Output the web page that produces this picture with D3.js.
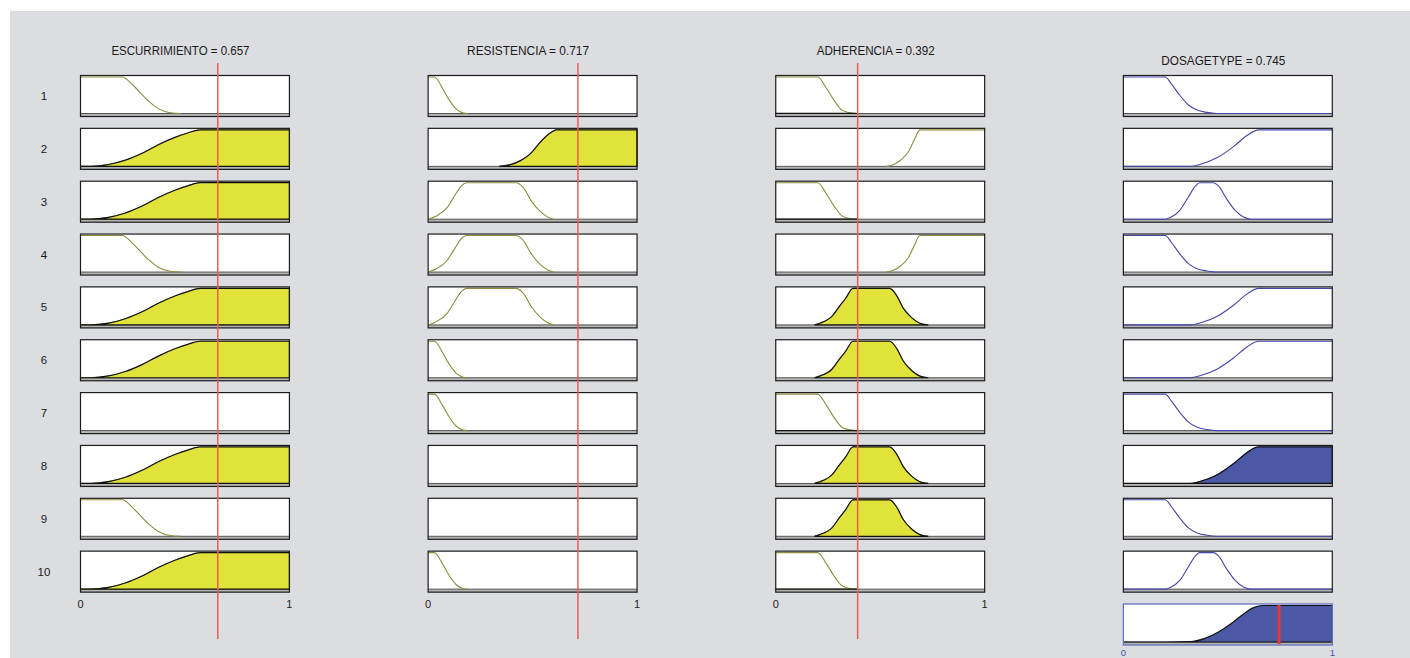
<!DOCTYPE html>
<html><head><meta charset="utf-8">
<script src="https://cdn.jsdelivr.net/npm/d3@7"></script>
<style>body{margin:0;background:#fff}svg{display:block}text{font-family:"Liberation Sans",Arial,sans-serif}</style>
</head><body><svg id="c" width="1410" height="658"></svg>
<script>
// ---- data ----
const columnTitles = ["ESCURRIMIENTO", "RESISTENCIA", "ADHERENCIA", "DOSAGETYPE"];
const columnValues = [0.657, 0.717, 0.392, 0.745];
const ruleNumbers = [1, 2, 3, 4, 5, 6, 7, 8, 9, 10];
const axisTicks = [0, 1];

// membership function shapes: [value, membership]
const escLow = [[0,1],[0.2,1],[0.25,0.78],[0.32,0.37],[0.37,0.14],[0.43,0.02],[0.48,0]];
const escHigh = [[0,0],[0.05,0],[0.135,0.05],[0.215,0.17],[0.295,0.36],[0.375,0.6],[0.455,0.8],[0.517,0.92],[0.574,1],[1,1]];
const resLow = [[0,1],[0.03,1],[0.07,0.68],[0.1,0.38],[0.135,0.12],[0.165,0.02],[0.19,0]];
const resMedium = [[0,0],[0.04,0.09],[0.09,0.31],[0.13,0.67],[0.16,0.92],[0.185,1],[0.42,1],[0.455,0.87],[0.495,0.49],[0.535,0.22],[0.575,0.05],[0.6,0]];
const resHigh = [[0.34,0],[0.39,0.04],[0.44,0.15],[0.49,0.35],[0.535,0.65],[0.575,0.87],[0.615,1],[1,1]];
const adhLow = [[0,1],[0.2,1],[0.245,0.67],[0.285,0.31],[0.315,0.1],[0.34,0.04],[0.355,0.02],[0.395,0]];
const adhMedium = [[0.185,0],[0.21,0.045],[0.27,0.24],[0.305,0.51],[0.335,0.73],[0.37,1],[0.545,1],[0.58,0.79],[0.61,0.46],[0.65,0.2],[0.69,0.045],[0.73,0]];
const adhHigh = [[0.53,0],[0.56,0.04],[0.6,0.18],[0.635,0.4],[0.665,0.75],[0.69,1],[1,1]];
const dosLow = [[0,1],[0.2,1],[0.23,0.81],[0.27,0.5],[0.31,0.24],[0.35,0.1],[0.4,0.03],[0.445,0],[1,0]];
const dosMedium = [[0,0],[0.2,0],[0.225,0.045],[0.27,0.24],[0.31,0.6],[0.345,0.91],[0.365,1],[0.43,1],[0.455,0.91],[0.495,0.55],[0.535,0.24],[0.575,0.06],[0.61,0],[1,0]];
const dosHigh = [[0,0],[0.32,0],[0.37,0.06],[0.45,0.24],[0.527,0.54],[0.593,0.85],[0.647,1],[1,1]];
const dosAggregate = [[0,0],[0.2,0],[0.32,0.01],[0.39,0.1],[0.455,0.275],[0.52,0.52],[0.585,0.81],[0.615,0.92],[0.665,1],[1,1]];

// rule antecedents / consequent per rule (null = not used)
const ruleEsc = ["low","high","high","low","high","high",null,"high","low","high"];
const ruleRes = ["low","high","medium","medium","medium","low","low",null,null,"low"];
const ruleAdh = ["low","high","low","high","medium","medium","low","medium","medium","low"];
const ruleDos = ["low","high","medium","low","high","high","low","high","low","medium"];

// ---- drawing ----
const mfSets = [
  {low: escLow, high: escHigh},
  {low: resLow, medium: resMedium, high: resHigh},
  {low: adhLow, medium: adhMedium, high: adhHigh},
  {low: dosLow, medium: dosMedium, high: dosHigh}
];
const ruleCols = [ruleEsc, ruleRes, ruleAdh, ruleDos];

const svg = d3.select("#c");
svg.append("rect").attr("x",10).attr("y",11).attr("width",1400).attr("height",647).attr("fill","#dcdde0");

const colBand = d3.scaleBand().domain(d3.range(4)).range([80.5, 1332.3]).paddingInner(0.399);
const rowBand = d3.scaleBand().domain(d3.range(11)).range([75.5, 645]).paddingInner(0.224);

function mu(pts, v) {
  if (v <= pts[0][0]) return pts[0][1];
  if (v >= pts[pts.length-1][0]) return pts[pts.length-1][1];
  for (let i = 1; i < pts.length; i++) {
    if (v <= pts[i][0]) {
      const [x0,y0] = pts[i-1], [x1,y1] = pts[i];
      return y0 + (y1-y0)*(v-x0)/(x1-x0);
    }
  }
  return 0;
}

const YELLOW = "#e2e33a", BLUE = "#4a58a6", OLIVE = "#8d8d3f", BLUELINE = "#4646a8";

function panel(col, row) {
  const x0 = colBand(col), w = colBand.bandwidth();
  const top = rowBand(row), h = rowBand.bandwidth();
  const xs = d3.scaleLinear().domain([0,1]).range([x0, x0+w]);
  const ys = d3.scaleLinear().domain([0,1]).range([top+h-3, top+1.5]);
  const g = svg.append("g");
  g.append("rect").attr("x",x0).attr("y",top).attr("width",w).attr("height",h).attr("fill","#fff");
  g.append("rect").attr("x",x0).attr("y",ys(0)).attr("width",w).attr("height",top+h-ys(0)).attr("fill","#b4b4b4");
  g.append("line").attr("x1",x0).attr("x2",x0+w).attr("y1",ys(0)).attr("y2",ys(0)).attr("stroke","#555").attr("stroke-width",1);
  return {g, xs, ys, x0, w, top, h};
}

const line = (xs, ys) => d3.line().x(d=>xs(d[0])).y(d=>ys(d[1])).curve(d3.curveMonotoneX);
const area = (xs, ys) => d3.area().x(d=>xs(d[0])).y0(ys(0)).y1(d=>ys(d[1])).curve(d3.curveMonotoneX);

// input columns
for (let c = 0; c < 3; c++) {
  for (let r = 0; r < 10; r++) {
    const p = panel(c, r);
    const name = ruleCols[c][r];
    if (name) {
      const pts = mfSets[c][name];
      const deg = mu(pts, columnValues[c]);
      p.g.append("path").attr("d", line(p.xs,p.ys)(pts)).attr("fill","none").attr("stroke",OLIVE).attr("stroke-width",1.1);
      if (deg > 0) {
        const clipped = pts.map(([x,m]) => [x, Math.min(m, deg)]);
        p.g.append("path").attr("d", area(p.xs,p.ys)(clipped)).attr("fill",YELLOW).attr("stroke","#111").attr("stroke-width",1.2);
      }
    }
    p.g.append("rect").attr("x",p.x0).attr("y",p.top).attr("width",p.w).attr("height",p.h).attr("fill","none").attr("stroke","#1c1c1c").attr("stroke-width",1.2);
  }
}

// output column
for (let r = 0; r < 10; r++) {
  const p = panel(3, r);
  const name = ruleDos[r];
  const pts = mfSets[3][name];
  let deg = 1;
  for (let c = 0; c < 3; c++) {
    const a = ruleCols[c][r];
    if (a) deg = Math.min(deg, mu(mfSets[c][a], columnValues[c]));
  }
  p.g.append("path").attr("d", line(p.xs,p.ys)(pts)).attr("fill","none").attr("stroke",BLUELINE).attr("stroke-width",1.1);
  if (deg > 0.01) {
    const clipped = pts.map(([x,m]) => [x, Math.min(m, deg)]);
    p.g.append("path").attr("d", area(p.xs,p.ys)(clipped)).attr("fill",BLUE).attr("stroke","#111").attr("stroke-width",1.2);
  }
  p.g.append("rect").attr("x",p.x0).attr("y",p.top).attr("width",p.w).attr("height",p.h).attr("fill","none").attr("stroke","#1c1c1c").attr("stroke-width",1.2);
}

// aggregated output
{
  const p = panel(3, 10);
  p.g.append("path").attr("d", area(p.xs,p.ys)(dosAggregate)).attr("fill",BLUE).attr("stroke","#111").attr("stroke-width",1.2);
  p.g.append("rect").attr("x",p.x0).attr("y",p.top).attr("width",p.w).attr("height",p.h).attr("fill","none").attr("stroke","#6573c4").attr("stroke-width",1.3);
  p.g.append("line").attr("x1",p.xs(columnValues[3])).attr("x2",p.xs(columnValues[3]))
    .attr("y1",p.top+1).attr("y2",p.top+p.h-1).attr("stroke","#e8363a").attr("stroke-width",3);
}

// red input lines
for (let c = 0; c < 3; c++) {
  const xs = d3.scaleLinear().domain([0,1]).range([colBand(c), colBand(c)+colBand.bandwidth()]);
  svg.append("line").attr("x1",xs(columnValues[c])).attr("x2",xs(columnValues[c]))
    .attr("y1",63).attr("y2",639).attr("stroke","#ee5c55").attr("stroke-width",1.5);
}

// titles
const titleLens = [138, 122, 118, 124];
columnTitles.forEach((t, c) => {
  svg.append("text").attr("x", colBand(c)+colBand.bandwidth()/2-4.5).attr("y", c < 3 ? 55 : 65)
    .attr("text-anchor","middle").attr("font-size",12.5).attr("fill","#1a1a1a")
    .attr("textLength", titleLens[c]).attr("lengthAdjust","spacingAndGlyphs")
    .text(t + " = " + d3.format(".3f")(columnValues[c]));
});

// rule numbers
ruleNumbers.forEach((n, r) => {
  svg.append("text").attr("x",44).attr("y",rowBand(r)+rowBand.bandwidth()/2+4)
    .attr("text-anchor","middle").attr("font-size",11.5).attr("fill","#1a1a1a").text(n);
});

// axes ticks
for (let c = 0; c < 4; c++) {
  const xs = d3.scaleLinear().domain([0,1]).range([colBand(c), colBand(c)+colBand.bandwidth()]);
  const y = c < 3 ? 607.5 : 656;
  axisTicks.forEach(t => {
    svg.append("text").attr("x",xs(t)).attr("y",y).attr("text-anchor","middle").attr("font-size", c < 3 ? 11 : 9.5)
      .attr("fill", c < 3 ? "#222" : "#4050a8").text(t);
  });
}
</script></body></html>
